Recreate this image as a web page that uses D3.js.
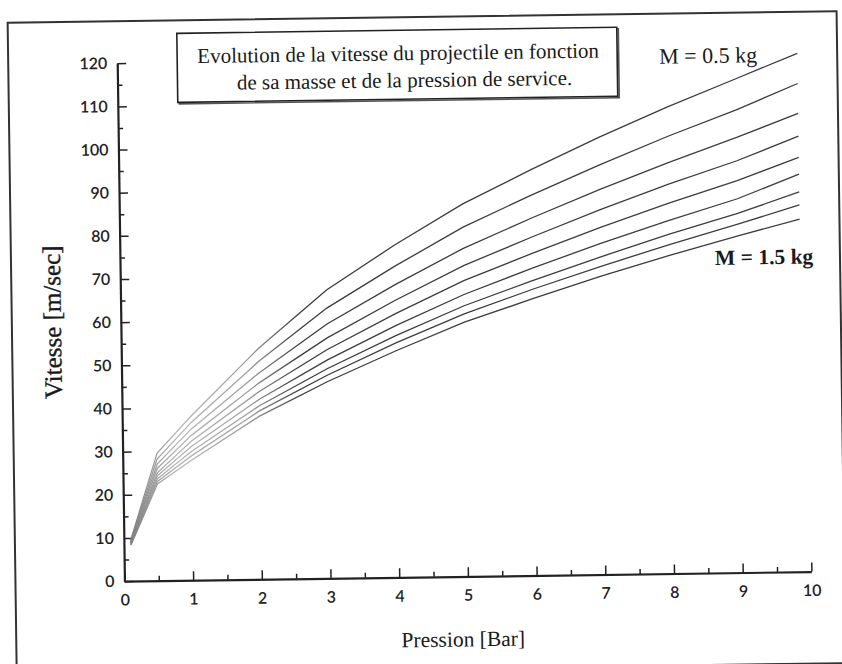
<!DOCTYPE html>
<html>
<head>
<meta charset="utf-8">
<script src="https://cdn.jsdelivr.net/npm/d3@7"></script>
<style>
  body { margin: 0; background: #fff; }
  svg { display: block; }
  .serif { font-family: "Liberation Serif", "DejaVu Serif", serif; fill: #1a1a1a; }
  .axis text { font-family: Lato, "Open Sans", sans-serif; fill: #222; }
</style>
</head>
<body>
<div id="chart"></div>
<script>
// Vitesse du projectile vs pression, one curve per masse
const width = 842;
const height = 664;

const pressures = [0.1, 0.5, 1, 2, 3, 4, 5, 6, 7, 8, 9, 9.9];
const masses = [0.5, 0.625, 0.75, 0.875, 1.0, 1.125, 1.25, 1.375, 1.5];

const v_m0500 = [9.5, 29.5, 38.0, 53.5, 66.8, 77.0, 86.3, 94.0, 101.3, 108.1, 114.4, 120.1];
const v_m0625 = [9.3, 28.2, 36.5, 50.5, 62.6, 72.1, 80.9, 88.1, 94.9, 101.3, 107.2, 113.1];
const v_m0750 = [9.1, 27.0, 35.0, 47.8, 58.9, 67.8, 76.0, 82.8, 89.2, 95.2, 100.8, 106.2];
const v_m0875 = [9.0, 26.0, 33.5, 45.5, 55.7, 64.2, 72.0, 78.4, 84.5, 90.2, 95.4, 100.9];
const v_m1000 = [8.8, 25.0, 32.2, 43.5, 53.0, 61.1, 68.5, 74.6, 80.4, 85.8, 90.8, 96.0];
const v_m1125 = [8.7, 24.3, 31.0, 41.7, 50.6, 58.3, 65.3, 71.2, 76.7, 81.8, 86.6, 92.1];
const v_m1250 = [8.5, 23.6, 29.8, 40.2, 48.6, 56.0, 62.7, 68.3, 73.6, 78.6, 83.2, 88.0];
const v_m1375 = [8.4, 23.0, 28.8, 39.0, 47.1, 54.3, 60.8, 66.3, 71.4, 76.2, 80.7, 85.0];
const v_m1500 = [8.3, 22.4, 27.8, 37.8, 45.6, 52.5, 58.9, 64.1, 69.1, 73.7, 78.0, 81.7];

const speeds = [v_m0500, v_m0625, v_m0750, v_m0875, v_m1000, v_m1125, v_m1250, v_m1375, v_m1500];

const xMajor = d3.range(0, 11, 1);
const xMinor = d3.range(0.5, 10, 1);
const yMajor = d3.range(0, 121, 10);
const yMinor = d3.range(5, 120, 10);

const titleLines = ["Evolution de la vitesse du projectile en fonction",
                    "de sa masse et de la pression de service."];

const svg = d3.select("#chart")
    .append("svg")
    .attr("width", width)
    .attr("height", height);

// the scanned page is slightly tilted
const g = svg.append("g").attr("transform", "rotate(-0.8, 421, 332)");

// outer frame
g.append("rect")
    .attr("x", 12).attr("y", 17)
    .attr("width", 829).attr("height", 652)
    .attr("fill", "none")
    .attr("stroke", "#333")
    .attr("stroke-width", 2);

const x = d3.scaleLinear().domain([0, 10]).range([121, 808]);
const y = d3.scaleLinear().domain([0, 120]).range([577, 59]);

// faded print on the low pressure part of the curves
const grad = svg.append("defs").append("linearGradient")
    .attr("id", "fade")
    .attr("gradientUnits", "userSpaceOnUse")
    .attr("x1", x(0)).attr("x2", x(2.6))
    .attr("y1", 0).attr("y2", 0);
grad.append("stop").attr("offset", 0).attr("stop-color", "#777");
grad.append("stop").attr("offset", 0.3).attr("stop-color", "#b8b8b8");
grad.append("stop").attr("offset", 0.7).attr("stop-color", "#a0a0a0");
grad.append("stop").attr("offset", 1).attr("stop-color", "#3c3c3c");

// y axis
g.append("g")
    .attr("class", "axis")
    .attr("transform", `translate(${x(0)},0)`)
    .call(d3.axisLeft(y).tickValues(yMajor).tickSizeInner(-9).tickSizeOuter(0).tickPadding(10));
g.append("g")
    .attr("class", "axis")
    .attr("transform", `translate(${x(0)},0)`)
    .call(d3.axisLeft(y).tickValues(yMinor).tickSizeInner(-5).tickSizeOuter(0).tickFormat(""))
    .call(a => a.select(".domain").remove());

// x axis
g.append("g")
    .attr("class", "axis")
    .attr("transform", `translate(0,${y(0)})`)
    .call(d3.axisBottom(x).tickValues(xMajor).tickSizeInner(-9).tickSizeOuter(0).tickPadding(13));
g.append("g")
    .attr("class", "axis")
    .attr("transform", `translate(0,${y(0)})`)
    .call(d3.axisBottom(x).tickValues(xMinor).tickSizeInner(-5).tickSizeOuter(0).tickFormat(""))
    .call(a => a.select(".domain").remove());

g.selectAll(".axis .domain").attr("stroke", "#222").attr("stroke-width", 2.2);
g.selectAll(".axis .tick line").attr("stroke", "#222").attr("stroke-width", 1.5);
g.selectAll(".axis text").attr("font-size", 16).attr("font-weight", 600);

// curves
const line = d3.line()
    .x((d, i) => x(pressures[i]))
    .y(d => y(d));

g.append("g")
    .selectAll("path")
    .data(speeds)
    .join("path")
    .attr("d", line)
    .attr("fill", "none")
    .attr("stroke", "url(#fade)")
    .attr("stroke-width", 1.3);

// title box, with the heavier right/bottom edge of the print
g.append("rect")
    .attr("x", 182.5).attr("y", 31.5)
    .attr("width", 440).attr("height", 69)
    .attr("fill", "none")
    .attr("stroke", "#555")
    .attr("stroke-width", 1.6);
g.append("rect")
    .attr("x", 181).attr("y", 30)
    .attr("width", 440).attr("height", 69)
    .attr("fill", "#fff")
    .attr("stroke", "#222")
    .attr("stroke-width", 1.6);

g.append("text").attr("class", "serif")
    .attr("x", 402).attr("y", 60)
    .attr("text-anchor", "middle")
    .attr("font-size", 21)
    .text(titleLines[0]);
g.append("text").attr("class", "serif")
    .attr("x", 408).attr("y", 87)
    .attr("text-anchor", "middle")
    .attr("font-size", 21)
    .text(titleLines[1]);

// mass labels
g.append("text").attr("class", "serif")
    .attr("x", 663).attr("y", 67)
    .attr("font-size", 22)
    .text(`M = ${masses[0]} kg`);
g.append("text").attr("class", "serif")
    .attr("x", 716).attr("y", 269)
    .attr("font-size", 21.5)
    .attr("font-weight", "bold")
    .text(`M = ${masses[masses.length - 1]} kg`);

// axis titles
g.append("text").attr("class", "serif")
    .attr("x", 459).attr("y", 647)
    .attr("text-anchor", "middle")
    .attr("font-size", 21.5)
    .text("Pression [Bar]");
g.append("text").attr("class", "serif")
    .attr("transform", "translate(61,317) rotate(-90)")
    .attr("text-anchor", "middle")
    .attr("font-size", 25)
    .attr("stroke", "#1a1a1a")
    .attr("stroke-width", 0.4)
    .text("Vitesse [m/sec]");
</script>
</body>
</html>
